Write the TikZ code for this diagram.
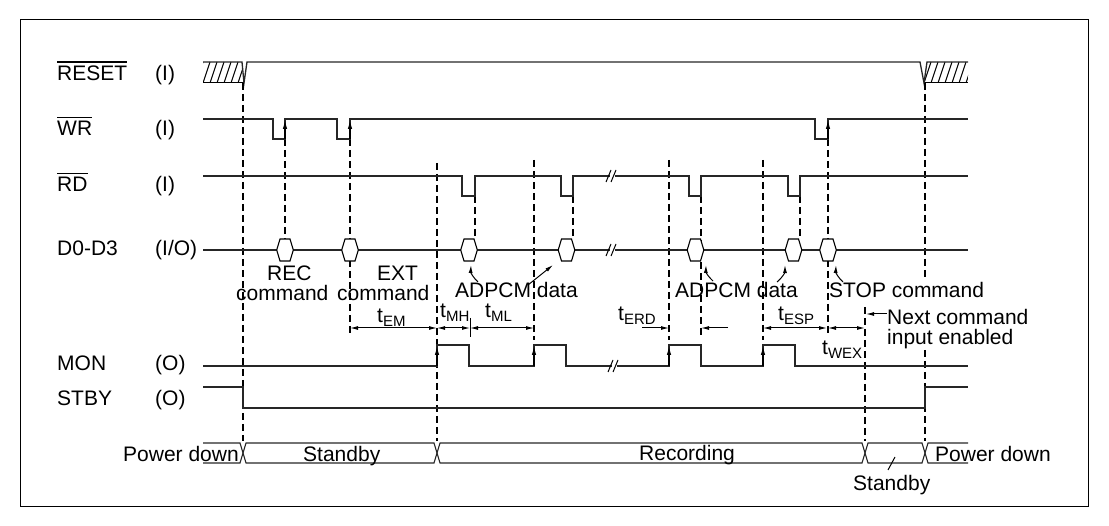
\documentclass[tikz,border=0pt]{standalone}
\usepackage{fontspec}
\setmainfont{Liberation Sans}
\usetikzlibrary{arrows.meta}
\newcommand\tsb[2]{#1\raisebox{-0.3ex}{\fontsize{15}{15}\selectfont #2}}
\begin{document}
\begin{tikzpicture}[x=1pt,y=-1pt,
  sig/.style={line width=1.3pt, black!85, line join=miter},
  dsh/.style={line width=1.5pt, dash pattern=on 7pt off 4pt, black},
  lbl/.style={anchor=base west, inner sep=0pt, font=\fontsize{21}{25}\selectfont},
  tip/.style={-{Latex[length=9pt,width=4.5pt]}, line width=1.1pt},
  dim/.style={{Latex[length=8pt,width=4pt]}-{Latex[length=8pt,width=4pt]}, line width=1pt},
  sdim/.style={-{Latex[length=8pt,width=4pt]}, line width=1pt},
  hex/.style={fill=white, draw=black, line width=1.1pt},
  thin/.style={line width=1pt},
  ovl/.style={line width=1.3pt},
]
\useasboundingbox (0,0) rectangle (1109,526);
\draw[line width=1pt] (20,20) rectangle (1088,506);

% ---- labels left
\node[lbl] (nRESET) at (57,81) {RESET};
\node[lbl] (dRESET) at (155,81) {(I)};
\node[lbl] (nWR) at (57,136) {WR};
\node[lbl] (dWR) at (155,136) {(I)};
\node[lbl] (nRD) at (57,192) {RD};
\node[lbl] (dRD) at (155,192) {(I)};
\node[lbl] (nD) at (57,256) {D0-D3};
\node[lbl] (dD) at (155,256) {(I/O)};
\node[lbl] (nMON) at (57,371) {MON};
\node[lbl] (dMON) at (155,371) {(O)};
\node[lbl] (nSTBY) at (57,406) {STBY};
\node[lbl] (dSTBY) at (155,406) {(O)};
\foreach \n in {nRESET,nWR,nRD}
  \draw[ovl] ([yshift=4pt]\n.north west) -- ([yshift=4pt]\n.north east);

% ---- RESET
\begin{scope}
  \clip (203,62) -- (242,62) -- (244,83) -- (203,83) -- cycle;
  \foreach \x in {189,196,...,245} \draw[thin] (\x,83) -- (\x+7,62);
\end{scope}
\begin{scope}
  \clip (927,62) -- (968,62) -- (968,83) -- (924,83) -- cycle;
  \foreach \x in {917,924,...,968} \draw[thin] (\x,83) -- (\x+7,62);
\end{scope}
\draw[thin] (203,83) -- (244,83);
\draw[thin] (924,83) -- (968,83);
\draw[sig] (203,62) -- (242,62) -- (244,83) -- (247,62) -- (920,62) -- (924,83) -- (927,62) -- (968,62);

% ---- dashed lines
\draw[dsh] (243,83) -- (243,441);
\draw[dsh] (285,139) -- (285,239);
\draw[dsh] (350,139) -- (350,336);
\draw[dsh] (437,163) -- (437,441);
\draw[dsh] (475,196) -- (475,239);
\draw[dsh] (534,160) -- (534,340);
\draw[dsh] (573,196) -- (573,239);
\draw[dsh] (669,160) -- (669,340);
\draw[dsh] (701,196) -- (701,336);
\draw[dsh] (763,160) -- (763,340);
\draw[dsh] (800,196) -- (800,239);
\draw[dsh] (828,139) -- (828,336);
\draw[dsh] (865,307) -- (865,441);
\draw[dsh] (925,83) -- (925,278);
\draw[dsh] (925,350) -- (925,441);

% ---- WR
\draw[sig] (203,119) -- (273,119) -- (273,139) -- (285,139) -- (285,119) -- (337,119) -- (337,139) -- (350,139) -- (350,119) -- (815,119) -- (815,139) -- (828,139) -- (828,119) -- (968,119);
\foreach \x in {285,350,828} \draw[tip] (\x,139) -- (\x,120);

% ---- RD
\draw[sig] (203,176) -- (462,176) -- (462,196) -- (475,196) -- (475,176) -- (561,176) -- (561,196) -- (573,196) -- (573,176) -- (689,176) -- (689,196) -- (701,196) -- (701,176) -- (788,176) -- (788,196) -- (800,196) -- (800,176) -- (968,176);

% ---- D0-D3
\draw[sig] (203,250) -- (968,250);
\foreach \c in {285,350,469,566.5,695.5,793.5,828}
  \draw[hex] ({\c-8.3},250) -- ({\c-5},239) -- ({\c+5},239) -- ({\c+8.3},250) -- ({\c+5},261) -- ({\c-5},261) -- cycle;

% ---- MON
\draw[sig] (203,366) -- (437,366) -- (437,345) -- (469,345) -- (469,366) -- (534,366) -- (534,345) -- (566,345) -- (566,366) -- (669,366) -- (669,345) -- (701,345) -- (701,366) -- (763,366) -- (763,345) -- (795,345) -- (795,366) -- (968,366);
\foreach \x in {437,534,669,763} \draw[tip] (\x,366) -- (\x,346);

% ---- STBY
\draw[sig] (203,387) -- (243,387) -- (243,408) -- (925,408) -- (925,387) -- (968,387);

% ---- breaks
\foreach \bx/\by in {612/176,612/250,614/366} {
  \fill[white] (\bx-2.5,\by-3) rectangle (\bx+2.5,\by+3);
  \draw[thin] (\bx-6,\by+6) -- (\bx-1,\by-6);
  \draw[thin] (\bx-1,\by+6) -- (\bx+4,\by-6);
}

% ---- state bar
\draw[sig,line width=1.1pt] (203,443) -- (240,443) -- (246,463) -- (434,463) -- (440,443) -- (862,443) -- (868,463) -- (922,463) -- (928,443) -- (968,443);
\draw[sig,line width=1.1pt] (203,463) -- (240,463) -- (246,443) -- (434,443) -- (440,463) -- (862,463) -- (868,443) -- (922,443) -- (928,463) -- (968,463);

% ---- texts on D0-D3
\node[lbl] (rec) at (267,281) {REC};
\node[lbl] (recc) at (236,301) {command};
\node[lbl] (ext) at (377,281) {EXT};
\node[lbl] (extc) at (337,301) {command};
\node[lbl] (ad1) at (455,298) {ADPCM data};
\node[lbl] (ad2) at (675,298) {ADPCM data};
\node[lbl] (stop) at (829,298) {STOP command};
\node[lbl] (next1) at (887,325) {Next command};
\node[lbl] (next2) at (887,345) {input enabled};

\draw[sdim] (478,282) to[bend left=25] (471,265);
\draw[sdim] (528,285) -- (553,265);
\draw[sdim] (713,281) to[bend left=25] (706,265);
\draw[sdim] (777,282) to[bend right=25] (785,265);
\draw[sdim] (843,282) to[bend left=25] (836,265);

% ---- timing dims
\draw[dim] (350,328) -- (437,328);
\draw[dim] (437,328) -- (470,328);
\draw[dim] (470,328) -- (534,328);
\draw[thin] (470,318) -- (470,337);
\draw[sdim] (642,328) -- (669,328);
\draw[sdim] (728,328) -- (701,328);
\draw[dim] (763,328) -- (827,328);
\draw[dim] (828,328) -- (865,328);
\draw[sdim] (887,314) -- (866,314);

\node[lbl] (tem) at (377,323) {\tsb{t}{EM}};
\node[lbl] (tmh) at (440,318) {\tsb{t}{MH}};
\node[lbl] (tml) at (485,318) {\tsb{t}{ML}};
\node[lbl] (terd) at (618,321) {\tsb{t}{ERD}};
\node[lbl] (tesp) at (778,321) {\tsb{t}{ESP}};
\node[lbl] (twex) at (822,355) {\tsb{t}{WEX}};

% ---- state texts
\node[lbl] (pd1) at (123,462) {Power down};
\node[lbl] (sb1) at (303,462) {Standby};
\node[lbl] (recg) at (639,461) {Recording};
\node[lbl] (pd2) at (935,462) {Power down};
\node[lbl] (sb2) at (853,490) {Standby};
\draw[thin] (888,470) -- (895,457);
\end{tikzpicture}
\end{document}
